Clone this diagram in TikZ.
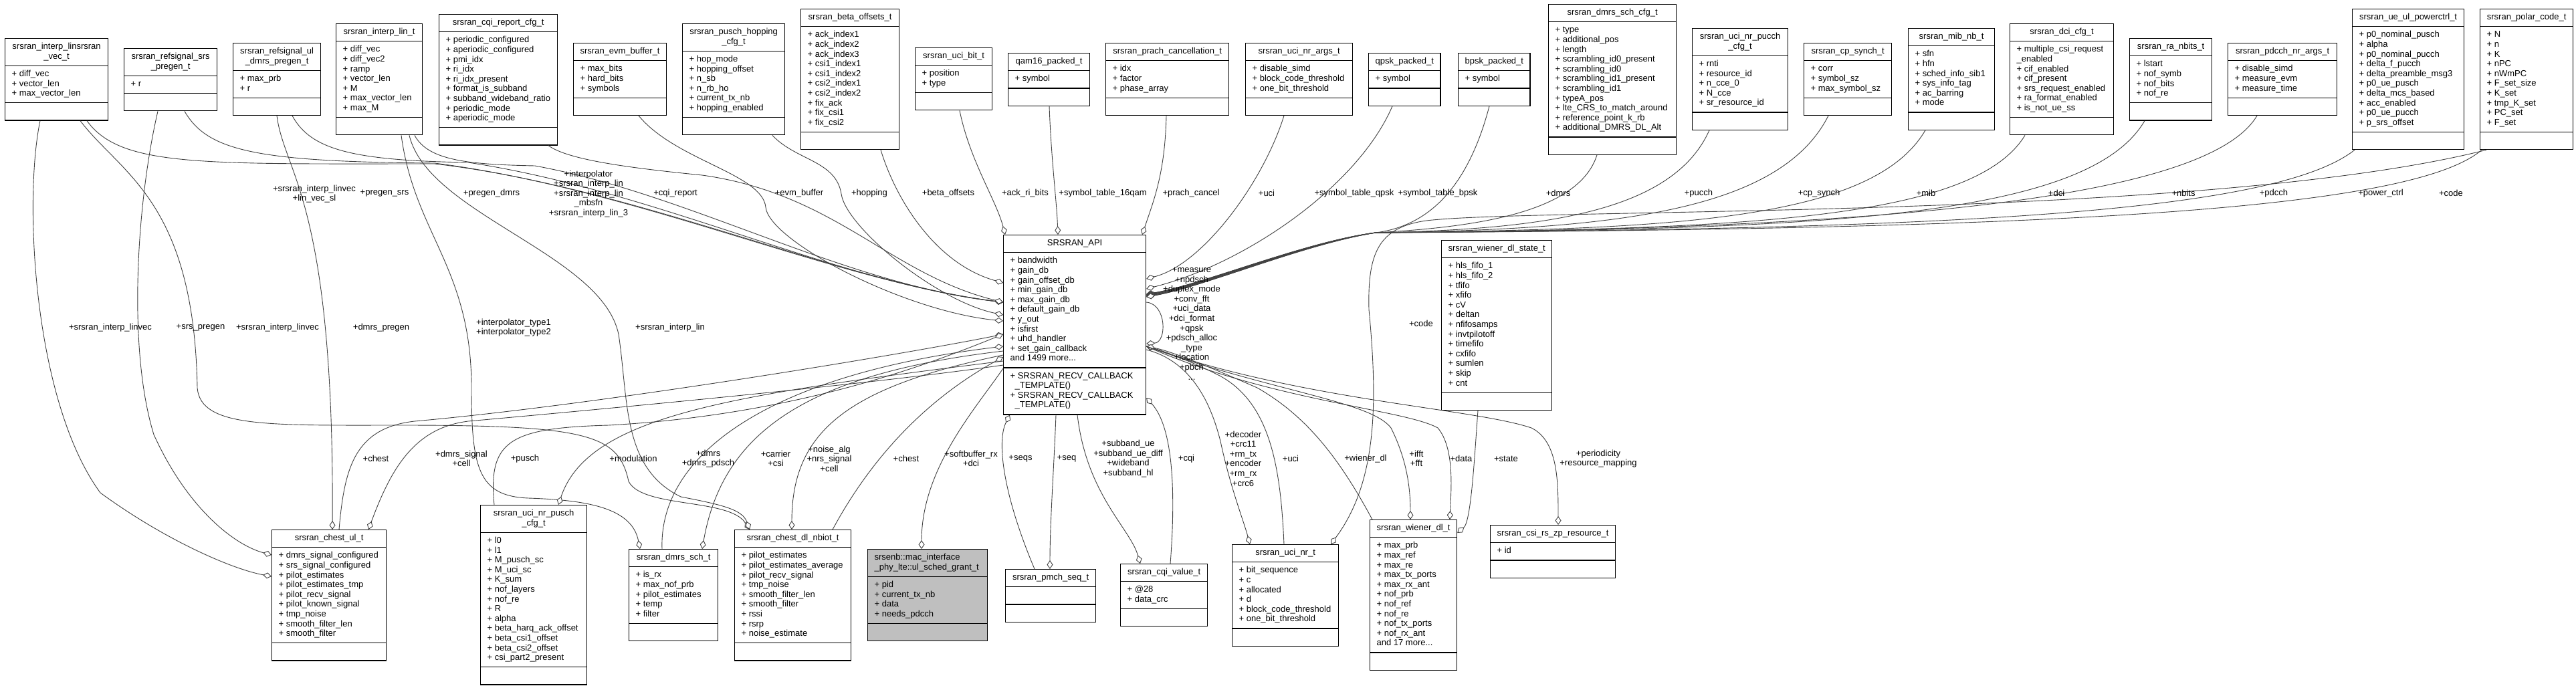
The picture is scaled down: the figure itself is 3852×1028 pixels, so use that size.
\documentclass[tikz,border=0pt]{standalone}
\usepackage{fontspec}
\setmainfont{Liberation Sans}
\usetikzlibrary{shapes.multipart,arrows.meta}
\definecolor{linkgray}{HTML}{404040}
\definecolor{rootgray}{HTML}{BFBFBF}
\newcommand{\umlfont}{\fontsize{13}{14.6}\selectfont}
\newcommand{\attlist}[1]{\begin{tabular}{@{}l@{}}#1\end{tabular}}
\newcommand{\boxtitle}[1]{\begin{tabular}{@{}c@{}}#1\end{tabular}}
\tikzset{
  classbox/.style={rectangle split, rectangle split parts=3, draw=black, line width=1.2pt,
    fill=white, anchor=north west, inner xsep=10pt, inner ysep=5.2pt, font=\umlfont,
    rectangle split part align={center,left,left}},
  rootbox/.style={classbox, fill=rootgray, rectangle split part align={left,left,left}},
  conn/.style={draw=linkgray, line width=0.9pt},
  own/.style={-{Diamond[length=13pt,width=9pt,fill=white]}},
  lbl/.style={font=\umlfont, align=center, inner sep=0pt},
}

\begin{document}
\begin{tikzpicture}[x=1pt,y=-1pt]
\useasboundingbox (0,0) rectangle (3852,1028);

% top row
\node[classbox, minimum width=154pt] (linvec) at (7,57) {\boxtitle{srsran\_interp\_linsrsran\\\_vec\_t}\nodepart{second}\attlist{+ diff\_vec\\+ vector\_len\\+ max\_vector\_len}\nodepart{third}\strut};
\node[classbox, minimum width=139pt] (srspregen) at (185,72) {\boxtitle{srsran\_refsignal\_srs\\\_pregen\_t}\nodepart{second}\attlist{+ r}\nodepart{third}\strut};
\node[classbox, minimum width=131pt] (dmrspregen) at (348,64) {\boxtitle{srsran\_refsignal\_ul\\\_dmrs\_pregen\_t}\nodepart{second}\attlist{+ max\_prb\\+ r}\nodepart{third}\strut};
\node[classbox, minimum width=129pt] (interplin) at (502,35) {\boxtitle{srsran\_interp\_lin\_t}\nodepart{second}\attlist{+ diff\_vec\\+ diff\_vec2\\+ ramp\\+ vector\_len\\+ M\\+ max\_vector\_len\\+ max\_M}\nodepart{third}\strut};
\node[classbox, minimum width=177pt] (cqireport) at (656,21) {\boxtitle{srsran\_cqi\_report\_cfg\_t}\nodepart{second}\attlist{+ periodic\_configured\\+ aperiodic\_configured\\+ pmi\_idx\\+ ri\_idx\\+ ri\_idx\_present\\+ format\_is\_subband\\+ subband\_wideband\_ratio\\+ periodic\_mode\\+ aperiodic\_mode}\nodepart{third}\strut};
\node[classbox, minimum width=139pt] (evmbuf) at (857,64) {\boxtitle{srsran\_evm\_buffer\_t}\nodepart{second}\attlist{+ max\_bits\\+ hard\_bits\\+ symbols}\nodepart{third}\strut};
\node[classbox, minimum width=153pt] (puschhop) at (1020,35) {\boxtitle{srsran\_pusch\_hopping\\\_cfg\_t}\nodepart{second}\attlist{+ hop\_mode\\+ hopping\_offset\\+ n\_sb\\+ n\_rb\_ho\\+ current\_tx\_nb\\+ hopping\_enabled}\nodepart{third}\strut};
\node[classbox, minimum width=147pt] (betaoff) at (1197,13) {\boxtitle{srsran\_beta\_offsets\_t}\nodepart{second}\attlist{+ ack\_index1\\+ ack\_index2\\+ ack\_index3\\+ csi1\_index1\\+ csi1\_index2\\+ csi2\_index1\\+ csi2\_index2\\+ fix\_ack\\+ fix\_csi1\\+ fix\_csi2}\nodepart{third}\strut};
\node[classbox, minimum width=115pt] (ucibit) at (1368,71) {\boxtitle{srsran\_uci\_bit\_t}\nodepart{second}\attlist{+ position\\+ type}\nodepart{third}\strut};
\node[classbox, minimum width=122pt] (qam16) at (1507,79) {\boxtitle{qam16\_packed\_t}\nodepart{second}\attlist{+ symbol}\nodepart{third}\strut};
\node[classbox, minimum width=184pt] (prachcancel) at (1653,64) {\boxtitle{srsran\_prach\_cancellation\_t}\nodepart{second}\attlist{+ idx\\+ factor\\+ phase\_array}\nodepart{third}\strut};
\node[classbox, minimum width=160pt] (ucinrargs) at (1862,64) {\boxtitle{srsran\_uci\_nr\_args\_t}\nodepart{second}\attlist{+ disable\_simd\\+ block\_code\_threshold\\+ one\_bit\_threshold}\nodepart{third}\strut};
\node[classbox, minimum width=99pt] (qpskpacked) at (2046,79) {\boxtitle{qpsk\_packed\_t}\nodepart{second}\attlist{+ symbol}\nodepart{third}\strut};
\node[classbox, minimum width=100pt] (bpskpacked) at (2180,79) {\boxtitle{bpsk\_packed\_t}\nodepart{second}\attlist{+ symbol}\nodepart{third}\strut};
\node[classbox, minimum width=191pt] (dmrsschcfg) at (2315,6) {\boxtitle{srsran\_dmrs\_sch\_cfg\_t}\nodepart{second}\attlist{+ type\\+ additional\_pos\\+ length\\+ scrambling\_id0\_present\\+ scrambling\_id0\\+ scrambling\_id1\_present\\+ scrambling\_id1\\+ typeA\_pos\\+ lte\_CRS\_to\_match\_around\\+ reference\_point\_k\_rb\\+ additional\_DMRS\_DL\_Alt}\nodepart{third}\strut};
\node[classbox, minimum width=143pt] (pucchcfg) at (2530,42) {\boxtitle{srsran\_uci\_nr\_pucch\\\_cfg\_t}\nodepart{second}\attlist{+ rnti\\+ resource\_id\\+ n\_cce\_0\\+ N\_cce\\+ sr\_resource\_id}\nodepart{third}\strut};
\node[classbox, minimum width=131pt] (cpsynch) at (2697,64) {\boxtitle{srsran\_cp\_synch\_t}\nodepart{second}\attlist{+ corr\\+ symbol\_sz\\+ max\_symbol\_sz}\nodepart{third}\strut};
\node[classbox, minimum width=129pt] (mibnb) at (2853,42) {\boxtitle{srsran\_mib\_nb\_t}\nodepart{second}\attlist{+ sfn\\+ hfn\\+ sched\_info\_sib1\\+ sys\_info\_tag\\+ ac\_barring\\+ mode}\nodepart{third}\strut};
\node[classbox, minimum width=155pt] (dcicfg) at (3005,35) {\boxtitle{srsran\_dci\_cfg\_t}\nodepart{second}\attlist{+ multiple\_csi\_request\\\_enabled\\+ cif\_enabled\\+ cif\_present\\+ srs\_request\_enabled\\+ ra\_format\_enabled\\+ is\_not\_ue\_ss}\nodepart{third}\strut};
\node[classbox, minimum width=123pt] (ranbits) at (3184,57) {\boxtitle{srsran\_ra\_nbits\_t}\nodepart{second}\attlist{+ lstart\\+ nof\_symb\\+ nof\_bits\\+ nof\_re}\nodepart{third}\strut};
\node[classbox, minimum width=163pt] (pdcchargs) at (3331,64) {\boxtitle{srsran\_pdcch\_nr\_args\_t}\nodepart{second}\attlist{+ disable\_simd\\+ measure\_evm\\+ measure\_time}\nodepart{third}\strut};
\node[classbox, minimum width=167pt] (powerctrl) at (3517,13) {\boxtitle{srsran\_ue\_ul\_powerctrl\_t}\nodepart{second}\attlist{+ p0\_nominal\_pusch\\+ alpha\\+ p0\_nominal\_pucch\\+ delta\_f\_pucch\\+ delta\_preamble\_msg3\\+ p0\_ue\_pusch\\+ delta\_mcs\_based\\+ acc\_enabled\\+ p0\_ue\_pucch\\+ p\_srs\_offset}\nodepart{third}\strut};
\node[classbox, minimum width=139pt] (polarcode) at (3708,13) {\boxtitle{srsran\_polar\_code\_t}\nodepart{second}\attlist{+ N\\+ n\\+ K\\+ nPC\\+ nWmPC\\+ F\_set\_size\\+ K\_set\\+ tmp\_K\_set\\+ PC\_set\\+ F\_set}\nodepart{third}\strut};

% middle
\node[classbox, minimum width=213pt] (api) at (1500,351) {\boxtitle{SRSRAN\_API}\nodepart{second}\attlist{+ bandwidth\\+ gain\_db\\+ gain\_offset\_db\\+ min\_gain\_db\\+ max\_gain\_db\\+ default\_gain\_db\\+ y\_out\\+ isfirst\\+ uhd\_handler\\+ set\_gain\_callback\\and 1499 more...}\nodepart{third}\attlist{+ SRSRAN\_RECV\_CALLBACK\\\hspace*{7pt}\_TEMPLATE()\\+ SRSRAN\_RECV\_CALLBACK\\\hspace*{7pt}\_TEMPLATE()}};
\node[classbox, minimum width=165pt] (wienerstate) at (2155,359) {\boxtitle{srsran\_wiener\_dl\_state\_t}\nodepart{second}\attlist{+ hls\_fifo\_1\\+ hls\_fifo\_2\\+ tfifo\\+ xfifo\\+ cV\\+ deltan\\+ nfifosamps\\+ invtpilotoff\\+ timefifo\\+ cxfifo\\+ sumlen\\+ skip\\+ cnt}\nodepart{third}\strut};

% bottom row
\node[classbox, minimum width=171pt] (chestul) at (406,792) {\boxtitle{srsran\_chest\_ul\_t}\nodepart{second}\attlist{+ dmrs\_signal\_configured\\+ srs\_signal\_configured\\+ pilot\_estimates\\+ pilot\_estimates\_tmp\\+ pilot\_recv\_signal\\+ pilot\_known\_signal\\+ tmp\_noise\\+ smooth\_filter\_len\\+ smooth\_filter}\nodepart{third}\strut};
\node[classbox, minimum width=159pt] (ucinrpusch) at (718,755) {\boxtitle{srsran\_uci\_nr\_pusch\\\_cfg\_t}\nodepart{second}\attlist{+ l0\\+ l1\\+ M\_pusch\_sc\\+ M\_uci\_sc\\+ K\_sum\\+ nof\_layers\\+ nof\_re\\+ R\\+ alpha\\+ beta\_harq\_ack\_offset\\+ beta\_csi1\_offset\\+ beta\_csi2\_offset\\+ csi\_part2\_present}\nodepart{third}\strut};
\node[classbox, minimum width=133pt] (dmrssch) at (940,821) {\boxtitle{srsran\_dmrs\_sch\_t}\nodepart{second}\attlist{+ is\_rx\\+ max\_nof\_prb\\+ pilot\_estimates\\+ temp\\+ filter}\nodepart{third}\strut};
\node[classbox, minimum width=174pt] (chestnbiot) at (1098,792) {\boxtitle{srsran\_chest\_dl\_nbiot\_t}\nodepart{second}\attlist{+ pilot\_estimates\\+ pilot\_estimates\_average\\+ pilot\_recv\_signal\\+ tmp\_noise\\+ smooth\_filter\_len\\+ smooth\_filter\\+ rssi\\+ rsrp\\+ noise\_estimate}\nodepart{third}\strut};
\node[rootbox, minimum width=179pt] (grant) at (1297,821) {\attlist{srsenb::mac\_interface\\\_phy\_lte::ul\_sched\_grant\_t}\nodepart{second}\attlist{+ pid\\+ current\_tx\_nb\\+ data\\+ needs\_pdcch}\nodepart{third}\strut};
\node[classbox, minimum width=135pt] (pmchseq) at (1503,851) {\boxtitle{srsran\_pmch\_seq\_t}\nodepart{second}\strut\nodepart{third}\strut};
\node[classbox, minimum width=130pt] (cqivalue) at (1675,843) {\boxtitle{srsran\_cqi\_value\_t}\nodepart{second}\attlist{+ @28\\+ data\_crc}\nodepart{third}\strut};
\node[classbox, minimum width=159pt] (ucinr) at (1842,814) {\boxtitle{srsran\_uci\_nr\_t}\nodepart{second}\attlist{+ bit\_sequence\\+ c\\+ allocated\\+ d\\+ block\_code\_threshold\\+ one\_bit\_threshold}\nodepart{third}\strut};
\node[classbox, minimum width=130pt] (wienerdl) at (2048,777) {\boxtitle{srsran\_wiener\_dl\_t}\nodepart{second}\attlist{+ max\_prb\\+ max\_ref\\+ max\_re\\+ max\_tx\_ports\\+ max\_rx\_ant\\+ nof\_prb\\+ nof\_ref\\+ nof\_re\\+ nof\_tx\_ports\\+ nof\_rx\_ant\\and 17 more...}\nodepart{third}\strut};
\node[classbox, minimum width=187pt] (csizp) at (2228,785) {\boxtitle{srsran\_csi\_rs\_zp\_resource\_t}\nodepart{second}\attlist{+ id}\nodepart{third}\strut};

% upper left types into SRSRAN_API
\draw[conn,own] ([xshift=123pt]linvec.south west) .. controls (180,250) and (300,245) .. (650,245) .. controls (950,280) and (1250,420) .. ([yshift=-101pt]api.north west);
\draw[conn,own] ([xshift=91pt]srspregen.south west) .. controls (310,225) and (380,242) .. (650,244) .. controls (950,282) and (1250,421) .. ([yshift=-101pt]api.north west);
\draw[conn,own] ([xshift=89pt]dmrspregen.south west) .. controls (465,225) and (530,240) .. (700,243) .. controls (980,285) and (1250,422) .. ([yshift=-101pt]api.north west);
\draw[conn,own] ([xshift=118pt]interplin.south west) .. controls (640,240) and (700,246) .. (800,248) .. controls (1030,290) and (1260,424) .. ([yshift=-101pt]api.north west);
\draw[conn,own] ([xshift=164pt]cqireport.south west) .. controls (850,240) and (950,252) .. (1050,262) .. controls (1250,290) and (1330,410) .. ([yshift=-101pt]api.north west);
\draw[conn,own] ([xshift=98pt]evmbuf.south west) .. controls (1010,240) and (1140,260) .. (1145,310) .. controls (1150,360) and (1350,465) .. ([yshift=-129pt]api.north west);
\draw[conn,own] ([xshift=135pt]puschhop.south west) .. controls (1190,240) and (1250,240) .. (1258,290) .. controls (1265,340) and (1400,450) .. ([yshift=-120pt]api.north west);
\draw[conn,own] ([xshift=120pt]betaoff.south west) .. controls (1340,300) and (1400,395) .. ([yshift=-72pt]api.north west);
\draw[conn,own] ([xshift=67pt]ucibit.south west) .. controls (1450,240) and (1490,300) .. ([xshift=3pt]api.north west);
\draw[conn,own] ([xshift=62pt]qam16.south west) .. controls (1572,240) and (1580,300) .. ([xshift=82pt]api.north west);
\draw[conn,own] ([xshift=91pt]prachcancel.south west) .. controls (1742,260) and (1725,300) .. ([xshift=208pt]api.north west);

% upper right types into SRSRAN_API
\draw[conn,own] ([xshift=58pt]ucinrargs.south west) .. controls (1890,270) and (1800,395) .. ([yshift=-66pt]api.north east);
\draw[conn,own] ([xshift=36pt]qpskpacked.south west) .. controls (2030,280) and (1860,395) .. ([yshift=-81pt]api.north east);
\draw[conn,own] ([xshift=47pt]bpskpacked.south west) .. controls (2190,300) and (2120,340) .. (2057,348) .. controls (1950,362) and (1800,425) .. ([yshift=-89pt]api.north east);
\draw[conn,own] ([xshift=73pt]dmrsschcfg.south west) .. controls (2360,320) and (2200,340) .. (2057,348) .. controls (1950,362) and (1800,425) .. ([yshift=-89pt]api.north east);
\draw[conn,own] ([xshift=26pt]pucchcfg.south west) .. controls (2500,320) and (2300,343) .. (2057,348) .. controls (1950,362) and (1800,426) .. ([yshift=-90pt]api.north east);
\draw[conn,own] ([xshift=37pt]cpsynch.south west) .. controls (2660,320) and (2400,343) .. (2057,348) .. controls (1950,362) and (1800,426) .. ([yshift=-90pt]api.north east);
\draw[conn,own] ([xshift=26pt]mibnb.south west) .. controls (2800,330) and (2500,343) .. (2057,348) .. controls (1950,363) and (1800,427) .. ([yshift=-91pt]api.north east);
\draw[conn,own] ([xshift=23pt]dcicfg.south west) .. controls (2950,330) and (2600,343) .. (2057,348) .. controls (1950,363) and (1800,427) .. ([yshift=-91pt]api.north east);
\draw[conn,own] ([xshift=23pt]ranbits.south west) .. controls (3120,330) and (2700,343) .. (2057,348) .. controls (1950,364) and (1800,428) .. ([yshift=-92pt]api.north east);
\draw[conn,own] ([xshift=44pt]pdcchargs.south west) .. controls (3300,300) and (2800,343) .. (2057,348) .. controls (1950,364) and (1800,428) .. ([yshift=-92pt]api.north east);
\draw[conn,own] ([xshift=4pt]powerctrl.south west) .. controls (3400,320) and (2900,343) .. (2057,348) .. controls (1950,365) and (1800,429) .. ([yshift=-93pt]api.north east);
\draw[conn,own] ([xshift=3pt]polarcode.south west) .. controls (3600,320) and (3000,343) .. (2057,348) .. controls (1950,365) and (1800,429) .. ([yshift=-93pt]api.north east);
\draw[conn,own] ([yshift=-101pt]api.north east) .. controls (1745,455) and (1745,512) .. ([yshift=-163pt]api.north east);
\draw[conn,own] ([xshift=10pt]polarcode.south west) .. controls (3300,330) and (2300,310) .. (2133,330) .. controls (2060,340) and (2045,380) .. (2047,463) .. controls (2060,600) and (2060,720) .. ([xshift=148pt]ucinr.north west);

% lower left
\draw[conn,own] ([xshift=53pt]linvec.south west) .. controls (35,300) and (50,600) .. (150,737) .. controls (250,810) and (350,852) .. ([yshift=-70pt]chestul.north west);
\draw[conn,own] ([xshift=51pt]srspregen.south west) .. controls (205,300) and (190,520) .. (230,650) .. controls (280,760) and (350,815) .. ([yshift=-38pt]chestul.north west);
\draw[conn,own] ([xshift=113pt]linvec.south west) .. controls (180,260) and (290,300) .. (295,580) .. controls (300,640) and (400,636) .. (600,636) .. controls (880,636) and (925,650) .. (940,720) .. controls (960,760) and (1090,745) .. ([xshift=23pt]chestnbiot.north west);
\draw[conn,own] ([xshift=66pt]dmrspregen.south west) .. controls (425,260) and (500,300) .. ([xshift=91pt]chestul.north west);
\draw[conn,own] ([xshift=98pt]interplin.south west) .. controls (620,350) and (705,400) .. (705,580) .. controls (705,700) and (715,742) .. (790,745) .. controls (880,748) and (945,760) .. ([xshift=17pt]dmrssch.north west);
\draw[conn,own] ([xshift=110pt]interplin.south west) .. controls (640,320) and (900,380) .. (925,500) .. controls (940,600) and (930,700) .. (1018,743) .. controls (1080,755) and (1110,762) .. ([xshift=23pt]chestnbiot.north west);

% lower middle
\draw[conn,own] ([xshift=101pt]chestul.north west) .. controls (515,700) and (530,640) .. (620,630) .. controls (900,605) and (1350,530) .. ([yshift=-149pt]api.north west);
\draw[conn,own] ([yshift=-195pt]api.north west) .. controls (1300,575) and (900,612) .. (700,630) .. controls (620,640) and (585,700) .. ([xshift=145pt]chestul.north west);
\draw[conn,own] ([xshift=21pt]ucinrpusch.north west) .. controls (730,660) and (760,640) .. (910,636) .. controls (1200,620) and (1400,540) .. ([yshift=-149pt]api.north west);
\draw[conn,own] ([yshift=-189pt]api.north west) .. controls (1100,590) and (880,620) .. ([xshift=117pt]ucinrpusch.north west);
\draw[conn,own] ([xshift=50pt]dmrssch.north west) .. controls (985,680) and (1150,560) .. ([yshift=-167pt]api.north west);
\draw[conn,own] ([yshift=-174pt]api.north west) .. controls (1200,560) and (1080,650) .. ([xshift=110pt]dmrssch.north west);
\draw[conn,own] ([yshift=-180pt]api.north west) .. controls (1260,580) and (1184,650) .. ([xshift=86pt]chestnbiot.north west);
\draw[conn,own] ([xshift=147pt]chestnbiot.north west) .. controls (1300,690) and (1380,600) .. ([yshift=-183pt]api.north west);
\draw[conn,own] ([yshift=-200pt]api.north west) .. controls (1460,610) and (1378,700) .. ([xshift=81pt]grant.north west);

% lower right
\draw[conn,own] ([xshift=44pt]pmchseq.north west) .. controls (1500,740) and (1490,660) .. ([xshift=10pt]api.south west);
\draw[conn,own] ([xshift=79pt]api.south west) .. controls (1576,700) and (1570,780) .. ([xshift=67pt]pmchseq.north west);
\draw[conn,own] ([xshift=111pt]api.south west) .. controls (1625,740) and (1690,790) .. ([xshift=30pt]cqivalue.north west);
\draw[conn,own] ([xshift=75pt]cqivalue.north west) .. controls (1758,740) and (1755,640) .. ([yshift=-244pt]api.north east);
\draw[conn,own] ([yshift=-172pt]api.north east) .. controls (1780,540) and (1810,600) .. (1825,660) .. controls (1840,730) and (1860,780) .. ([xshift=27pt]ucinr.north west);
\draw[conn,own] ([xshift=78pt]ucinr.north west) .. controls (1915,700) and (1900,600) .. (1820,560) .. controls (1780,540) and (1740,525) .. ([yshift=-167pt]api.north east);
\draw[conn,own] ([xshift=4pt]wienerdl.north west) .. controls (2000,680) and (1950,620) .. (1880,580) .. controls (1800,545) and (1750,525) .. ([yshift=-167pt]api.north east);
\draw[conn,own] ([yshift=-167pt]api.north east) .. controls (1900,585) and (2050,600) .. (2080,640) .. controls (2100,680) and (2109,720) .. ([xshift=61pt]wienerdl.north west);
\draw[conn,own] ([yshift=-167pt]api.north east) .. controls (1900,600) and (2100,612) .. (2150,640) .. controls (2175,670) and (2170,730) .. ([xshift=120pt]wienerdl.north west);
\draw[conn,own] ([xshift=55pt]wienerstate.south west) .. controls (2205,680) and (2200,780) .. ([yshift=-20pt]wienerdl.north east);
\draw[conn,own] ([yshift=-167pt]api.north east) .. controls (1950,600) and (2200,610) .. (2290,640) .. controls (2330,660) and (2330,720) .. ([xshift=102pt]csizp.north west);

% labels
\node[lbl] (lbLinvecTop) at (470,290) {+srsran\_interp\_linvec\\+lin\_vec\_sl};
\node[lbl] (lbPregenSrs) at (575,289) {+pregen\_srs};
\node[lbl] (lbPregenDmrs) at (735,289) {+pregen\_dmrs};
\node[lbl] (lbInterp) at (880,290) {+interpolator\\+srsran\_interp\_lin\\+srsran\_interp\_lin\\\_mbsfn\\+srsran\_interp\_lin\_3};
\node[lbl] (lbCqiReport) at (1010,289) {+cqi\_report};
\node[lbl] (lbEvm) at (1195,289) {+evm\_buffer};
\node[lbl] (lbHop) at (1300,289) {+hopping};
\node[lbl] (lbBeta) at (1418,289) {+beta\_offsets};
\node[lbl] (lbAckRi) at (1533,289) {+ack\_ri\_bits};
\node[lbl] (lbSym16) at (1649,289) {+symbol\_table\_16qam};
\node[lbl] (lbPrach) at (1781,289) {+prach\_cancel};
\node[lbl] (lbUci) at (1894,289) {+uci};
\node[lbl] (lbQpsk) at (2025,289) {+symbol\_table\_qpsk};
\node[lbl] (lbBpsk) at (2150,289) {+symbol\_table\_bpsk};
\node[lbl] (lbDmrsCfg) at (2330,289) {+dmrs};
\node[lbl] (lbPucch) at (2540,289) {+pucch};
\node[lbl] (lbCpSynch) at (2720,289) {+cp\_synch};
\node[lbl] (lbMib) at (2880,289) {+mib};
\node[lbl] (lbDci) at (3075,289) {+dci};
\node[lbl] (lbNbits) at (3265,289) {+nbits};
\node[lbl] (lbPdcch) at (3400,289) {+pdcch};
\node[lbl] (lbPower) at (3560,289) {+power\_ctrl};
\node[lbl] (lbCodeTop) at (3665,289) {+code};
\node[lbl] (lbSelf) at (1782,484) {+measure\\+npdsch\\+duplex\_mode\\+conv\_fft\\+uci\_data\\+dci\_format\\+qpsk\\+pdsch\_alloc\\\_type\\+location\\+pbch\\...};
\node[lbl] (lbCodeMid) at (2125,484) {+code};
\node[lbl] (lbLinvecA) at (165,490) {+srsran\_interp\_linvec};
\node[lbl] (lbSrsPregen) at (300,490) {+srs\_pregen};
\node[lbl] (lbLinvecB) at (415,490) {+srsran\_interp\_linvec};
\node[lbl] (lbDmrsPregen) at (570,490) {+dmrs\_pregen};
\node[lbl] (lbInterpType) at (768,490) {+interpolator\_type1\\+interpolator\_type2};
\node[lbl] (lbInterpLin) at (1002,490) {+srsran\_interp\_lin};
\node[lbl] (lbChestUl) at (562,686) {+chest};
\node[lbl] (lbDmrsSignal) at (690,686) {+dmrs\_signal\\+cell};
\node[lbl] (lbPusch) at (785,686) {+pusch};
\node[lbl] (lbModulation) at (947,686) {+modulation};
\node[lbl] (lbDmrs) at (1059,686) {+dmrs\\+dmrs\_pdsch};
\node[lbl] (lbCarrier) at (1160,686) {+carrier\\+csi};
\node[lbl] (lbNoise) at (1240,686) {+noise\_alg\\+nrs\_signal\\+cell};
\node[lbl] (lbChestNb) at (1355,686) {+chest};
\node[lbl] (lbSoftbuf) at (1452,686) {+softbuffer\_rx\\+dci};
\node[lbl] (lbSeqs) at (1526,686) {+seqs};
\node[lbl] (lbSeq) at (1595,686) {+seq};
\node[lbl] (lbSubband) at (1687,686) {+subband\_ue\\+subband\_ue\_diff\\+wideband\\+subband\_hl};
\node[lbl] (lbCqi) at (1774,686) {+cqi};
\node[lbl] (lbDecoder) at (1859,686) {+decoder\\+crc11\\+rm\_tx\\+encoder\\+rm\_rx\\+crc6};
\node[lbl] (lbUciNr) at (1930,686) {+uci};
\node[lbl] (lbWiener) at (2042,686) {+wiener\_dl};
\node[lbl] (lbFft) at (2118,686) {+ifft\\+fft};
\node[lbl] (lbData) at (2185,686) {+data};
\node[lbl] (lbState) at (2252,686) {+state};
\node[lbl] (lbPeriod) at (2390,686) {+periodicity\\+resource\_mapping};
\end{tikzpicture}
\end{document}
